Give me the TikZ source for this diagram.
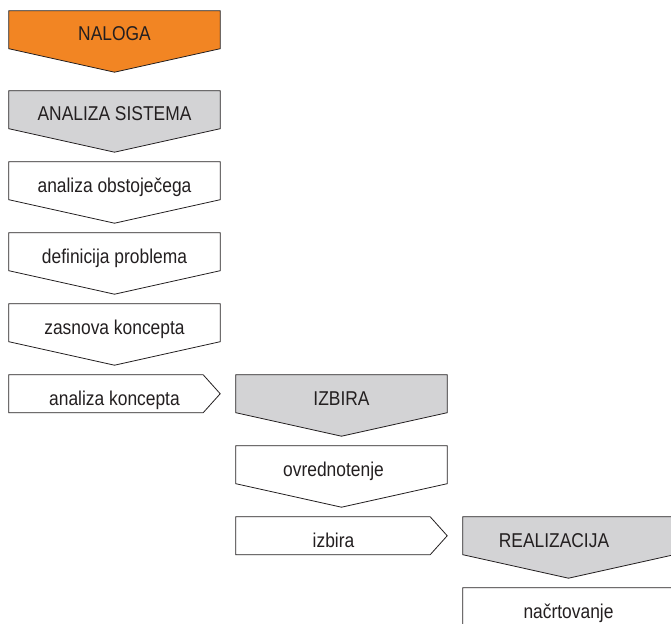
\documentclass[tikz,border=0pt]{standalone}
\usepackage{fontspec}
\setmainfont{Liberation Sans}[FakeStretch=0.87]
\usetikzlibrary{positioning,backgrounds}
\definecolor{nalogaorange}{RGB}{242,133,35}
\definecolor{phasegrey}{RGB}{211,211,213}
\definecolor{inkgrey}{RGB}{35,31,32}

\begin{document}
\begin{tikzpicture}[font=\fontsize{20}{24}\selectfont, text=inkgrey, node distance=71pt,
    box/.style={rectangle, inner sep=0pt, minimum width=211pt, text height=30pt, text depth=7.5pt},
    rim/.style={draw=inkgrey, line width=0.8pt, line join=miter}]
  \useasboundingbox (0,0) rectangle (671pt,-623pt);

  \node[box] (naloga) at (114.5pt,-29.75pt) {NALOGA};
  \node[box] (sistem) [below of=naloga, node distance=80pt] {ANALIZA SISTEMA};
  \node[box] (obst)   [below of=sistem] {analiza obstoječega};
  \node[box] (defi)   [below of=obst]   {definicija problema};
  \node[box] (zasn)   [below of=defi]   {zasnova koncepta};
  \node[box] (konc)   [below of=zasn]   {analiza koncepta};
  \node[box] (izb)    [right of=konc, node distance=227pt] {IZBIRA};
  \node[box] (ovre)   [below of=izb]    {ovrednotenje\hspace*{16pt}};
  \node[box] (izbi)   [below of=ovre]   {izbira\hspace*{16pt}};
  \node[box] (real)   [right of=izbi, node distance=227pt] {REALIZACIJA\hspace*{29pt}};
  \node[box] (nacr)   [below of=real]   {načrtovanje};

  \begin{scope}[on background layer]
    \foreach \n/\c in {naloga/nalogaorange, sistem/phasegrey, obst/white, defi/white, zasn/white,
                       izb/phasegrey, ovre/white, real/phasegrey, nacr/white}
      \draw[rim, fill=\c] (\n.north west) -- (\n.north east) -- (\n.south east)
            -- ([yshift=-23.5pt]\n.south) -- (\n.south west) -- cycle;
    \foreach \n in {konc, izbi}
      \draw[rim, fill=white] (\n.north west) -- ([xshift=-17pt]\n.north east) -- (\n.east)
            -- ([xshift=-17pt]\n.south east) -- (\n.south west) -- cycle;
  \end{scope}
\end{tikzpicture}
\end{document}
